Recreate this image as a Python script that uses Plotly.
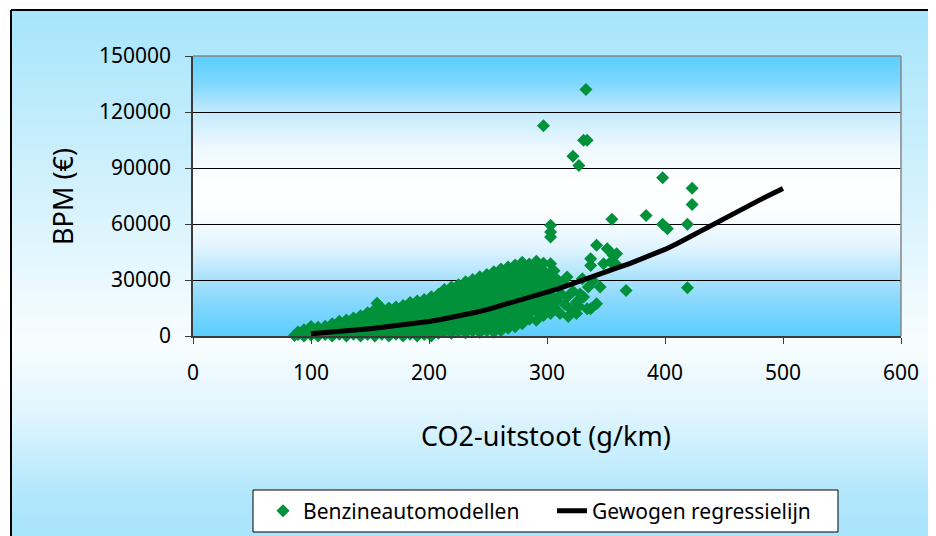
import base64
import plotly.graph_objects as go

# ---------------- data ----------------
# dense cloud of petrol car models: CO2 column -> BPM values
cloud_columns = {
    86: [300],
    89: [800, 2200],
    94: [0, 2600, 3300],
    100: [600, 3200, 5100],
    106: [0, 2500, 4700],
    112: [800, 3300, 5200],
    118: [0, 2800, 5200, 6600],
    124: [900, 3600, 6200, 7900],
    130: [0, 3000, 5800, 8600],
    136: [1000, 4000, 7000, 9700],
    142: [0, 3000, 6000, 9000, 10900],
    148: [800, 4000, 7200, 10300, 12500],
    154: [0, 3000, 6000, 9000, 12000, 14200],
    156: [15000, 17600],
    160: [900, 4000, 7500, 10500, 13200, 14800],
    166: [0, 3000, 6000, 9000, 12000, 15000],
    172: [900, 4000, 7000, 10000, 13000, 15600],
    178: [0, 3000, 6000, 9000, 12000, 15000, 16300],
    184: [900, 4000, 7000, 10000, 13000, 16000, 17900],
    190: [0, 3000, 6000, 9000, 12000, 15000, 18000, 18800],
    196: [800, 4000, 7000, 10000, 13000, 16000, 19500],
    202: [0, 3000, 6000, 9000, 12000, 15000, 18000, 21000],
    208: [1500, 4500, 7500, 10500, 13500, 16500, 19500, 22400],
    213: [2500, 5500, 8500, 11500, 14500, 17500, 20500, 23000, 24900],
    219: [1500, 4500, 7500, 10500, 13500, 16500, 19500, 22500, 26300],
    225: [2500, 5500, 8500, 11500, 14500, 17500, 20500, 23500, 27400],
    231: [1800, 4800, 7800, 10800, 13800, 16800, 19800, 22800, 25800, 29000],
    237: [2800, 5800, 8800, 11800, 14800, 17800, 20800, 23800, 26800, 30300],
    243: [2000, 5000, 8000, 11000, 14000, 17000, 20000, 23000, 26000, 29000, 31800],
    249: [3000, 6000, 9000, 12000, 15000, 18000, 21000, 24000, 27000, 30000, 33000],
    255: [2200, 5200, 8200, 11200, 14200, 17200, 20200, 23200, 26200, 29200, 32200, 34400],
    261: [3000, 6000, 9000, 12000, 15000, 18000, 21000, 24000, 27000, 30000, 33000, 35900],
    267: [4200, 7200, 10200, 13200, 16200, 19200, 22200, 25200, 28200, 31200, 34200, 37000],
    273: [5000, 8300, 11300, 14300, 17300, 20300, 23300, 26300, 29300, 32300, 35300, 38100],
    279: [6500, 9500, 12500, 15500, 18500, 21500, 24500, 27500, 30500, 33500, 36500, 39500],
    285: [9000, 12000, 15000, 18000, 21000, 24000, 27000, 30000, 33000, 36000, 38600],
    291: [8400, 13500, 16500, 19500, 22500, 25500, 28500, 31500, 34500, 37500, 40000],
    297: [11000, 14000, 17000, 20000, 23000, 26000, 29000, 32000, 35000, 39000],
    303: [12000, 15000, 19000, 22000, 25000, 28000, 31000, 34000, 38700, 53000, 55700, 59300],
}

# scattered models above ~305 g/km and outliers
sparse_co2 = [306, 308, 309, 311, 312, 313, 317, 317, 320, 325, 325, 330, 331, 334, 335,
              337, 342, 345, 337, 337, 342, 351, 356, 348, 358, 354, 359, 367, 355, 384,
              398, 402, 419, 423, 423, 398, 419, 297, 322, 327, 331, 334, 333,
              315, 322, 327, 310, 328, 339, 306, 318]
sparse_bpm = [35000, 19100, 30000, 12000, 22500, 28000, 20900, 31600, 14500, 12000, 18200,
              30700, 20900, 14600, 26200, 14600, 17300, 26200, 41400, 37800, 48600, 46800,
              43200, 38700, 38700, 39600, 44100, 24400, 62500, 64600, 59800, 57500, 59800,
              70500, 79100, 84800, 25900, 112700, 96300, 91300, 104800, 104800, 132000,
              17000, 24000, 16000, 26500, 22500, 29500, 15500, 10500]

# weighted regression line
reg_co2 = [100, 110, 120, 130, 140, 150, 160, 170, 180, 190, 200, 210, 220, 230, 240,
           250, 260, 270, 280, 290, 300, 310, 320, 330, 340, 350, 360, 370, 380, 390,
           400, 410, 420, 430, 440, 450, 460, 470, 480, 490, 500]
reg_bpm = [1200, 1600, 2100, 2700, 3300, 3900, 4600, 5400, 6200, 7000, 7800, 8800, 9900,
           11200, 12700, 14300, 16000, 17800, 19700, 21600, 23500, 25400, 27500, 29800,
           32100, 34400, 36600, 38800, 41200, 43700, 46400, 49400, 52800, 56300, 59800,
           62900, 66200, 69600, 72800, 75900, 79000]

y_ticks = [0, 30000, 60000, 90000, 120000, 150000]
x_ticks = [0, 100, 200, 300, 400, 500, 600]

series_names = ["Benzineautomodellen", "Gewogen regressielijn"]
x_title = "CO2-uitstoot (g/km)"
y_title = "BPM (€)"

# ---------------- build ----------------
bz_x, bz_y = [], []
for cx, ys in cloud_columns.items():
    for yv in ys:
        bz_x.append(cx)
        bz_y.append(yv)
bz_x += sparse_co2
bz_y += sparse_bpm

OFF = 8                      # page body margin
W, H = 928, 528              # figure size (fits window with body margin)
ML, MR, MT, MB = 185, 35, 48, 200
PW, PH = W - ML - MR, H - MT - MB


def px_x(p):                 # page pixel -> paper x
    return (p - OFF - ML) / PW


def px_y(p):                 # page pixel -> paper y
    return (H - MB - (p - OFF)) / PH


def grad_uri(stops):
    s = "".join(f'<stop offset="{o}" stop-color="{c}"/>' for o, c in stops)
    svg = ('<svg xmlns="http://www.w3.org/2000/svg" width="10" height="100" '
           'viewBox="0 0 10 100" preserveAspectRatio="none">'
           '<defs><linearGradient id="g" x1="0" y1="0" x2="0" y2="1">' + s +
           '</linearGradient></defs><rect width="10" height="100" fill="url(#g)"/></svg>')
    return "data:image/svg+xml;base64," + base64.b64encode(svg.encode()).decode()


outer_grad = grad_uri([(0, "#A6E4FB"), (0.3, "#CFF0FD"), (0.62, "#F8FDFF"),
                       (0.76, "#DDF4FE"), (0.9, "#B2E7FC"), (1, "#A6E4FB")])
plot_grad = grad_uri([(0, "#5BCEFD"), (0.1, "#80D8FD"), (0.2, "#C3EAFD"), (0.33, "#EEF9FF"),
                      (0.46, "#FFFFFF"), (0.56, "#FCFEFF"), (0.68, "#E2F5FF"),
                      (0.8, "#A8E1FC"), (0.9, "#7ED6FD"), (1, "#5BCEFD")])

fig = go.Figure()
fig.add_trace(go.Scatter(
    x=bz_x, y=bz_y, mode="markers", name=series_names[0],
    marker=dict(symbol="diamond", size=10, color="#00913A", line=dict(width=0)),
    cliponaxis=False,
))
fig.add_trace(go.Scatter(
    x=reg_co2, y=reg_bpm, mode="lines", name=series_names[1],
    line=dict(color="black", width=5),
))

ox0, oy0 = 11, 10
fig.update_layout(
    width=W, height=H,
    margin=dict(l=ML, r=MR, t=MT, b=MB, pad=0, autoexpand=False),
    paper_bgcolor="white",
    plot_bgcolor="rgba(0,0,0,0)",
    font=dict(family="Noto Sans", size=21, color="black"),
    showlegend=True,
    legend=dict(orientation="h", xref="container", yref="container",
                x=(263 - OFF) / W, y=(H - (511 - OFF)) / H,
                xanchor="left", yanchor="middle",
                bgcolor="rgba(0,0,0,0)", borderwidth=0, entrywidth=244,
                font=dict(family="Noto Sans", size=21, color="black")),
    images=[
        dict(source=outer_grad, xref="paper", yref="paper", x=px_x(ox0), y=px_y(oy0),
             sizex=(W + 20 - ox0) / PW, sizey=(H + 20 - oy0) / PH, sizing="stretch",
             xanchor="left", yanchor="top", layer="below"),
        dict(source=plot_grad, xref="paper", yref="paper", x=0, y=1, sizex=1, sizey=1,
             sizing="stretch", xanchor="left", yanchor="top", layer="below"),
    ],
    shapes=[
        # outer chart border (left + top)
        dict(type="line", xref="paper", yref="paper", x0=px_x(ox0), x1=px_x(ox0),
             y0=px_y(oy0), y1=px_y(H + 20), line=dict(color="black", width=2), layer="below"),
        dict(type="line", xref="paper", yref="paper", x0=px_x(ox0), x1=px_x(W + 20),
             y0=px_y(oy0), y1=px_y(oy0), line=dict(color="black", width=2), layer="below"),
        # legend box
        dict(type="rect", xref="paper", yref="paper", x0=px_x(253), x1=px_x(838),
             y0=px_y(490), y1=px_y(532), fillcolor="white",
             line=dict(color="black", width=1), layer="below"),
        # plot area border top/right (grey)
        dict(type="line", xref="paper", yref="paper", x0=0, x1=1, y0=1, y1=1,
             line=dict(color="#868686", width=1.5), layer="above"),
        dict(type="line", xref="paper", yref="paper", x0=1, x1=1, y0=0, y1=1,
             line=dict(color="#868686", width=1.5), layer="above"),
    ],
    annotations=[
        dict(text=x_title, xref="paper", yref="paper", x=px_x(546), y=px_y(435),
             xanchor="center", yanchor="middle", showarrow=False,
             font=dict(family="Noto Sans", size=27, color="black")),
        dict(text=y_title, xref="paper", yref="paper", x=px_x(62), y=px_y(197),
             xanchor="center", yanchor="middle", showarrow=False, textangle=-90,
             font=dict(family="Noto Sans", size=27, color="black")),
    ],
)

fig.update_xaxes(
    range=[0, 600], tickvals=x_ticks, ticktext=[str(v) for v in x_ticks],
    showgrid=False, zeroline=False, showline=True, linecolor="#3a3a3a", linewidth=1.5,
    ticks="outside", ticklen=6, tickcolor="#3a3a3a", tickwidth=1,
    ticklabelstandoff=11, tickfont=dict(size=21, color="black"),
)
fig.update_yaxes(
    range=[0, 150000], tickvals=y_ticks, ticktext=[str(v) for v in y_ticks],
    showgrid=True, gridcolor="black", gridwidth=1, zeroline=False,
    showline=True, linecolor="#3a3a3a", linewidth=1.5,
    ticks="outside", ticklen=6, tickcolor="#3a3a3a", tickwidth=1,
    ticklabelstandoff=10, tickfont=dict(size=21, color="black"),
)

fig.write_html("out.html")
